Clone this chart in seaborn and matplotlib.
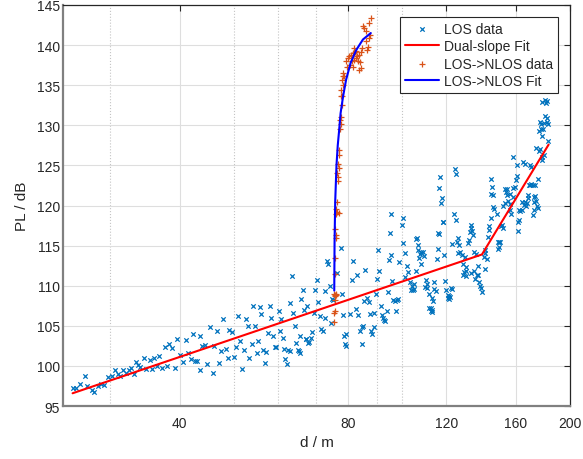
import numpy as np
import seaborn as sns
import matplotlib.pyplot as plt
from matplotlib.ticker import FixedLocator, NullFormatter

# LOS measurements (distance in m, path loss in dB)
los_d = [25.7, 26.1, 26.5, 27.0, 27.3, 27.8, 28.1, 28.5, 28.9, 29.3, 29.8, 30.2, 30.6, 31.0, 31.2, 31.7,
         32.0, 32.4, 32.7, 33.1, 33.4, 33.7, 34.0, 34.5, 34.8, 35.3, 35.6, 36.0, 36.4, 36.7, 37.1, 37.6,
         38.0, 38.3, 38.8, 39.2, 39.6, 40.1, 40.6, 41.0, 41.4, 41.9, 42.2, 42.6, 43.0, 43.4, 43.5,
         43.8, 44.3, 44.7, 45.2, 45.8, 46.1, 46.6, 47.0, 47.4, 47.8, 48.3, 48.7, 49.0, 49.5, 50.1, 50.4,
         50.9, 51.3, 51.7, 52.2, 52.5, 52.9, 53.3, 53.8, 54.1, 54.5, 54.9, 55.3, 55.6, 56.0, 56.4, 56.8,
         57.1, 57.5, 57.9, 58.2, 58.7, 59.2, 59.5, 60.1, 60.4, 60.7, 61.1, 61.5, 61.8, 62.1, 62.6, 63.0,
         63.4, 63.8, 64.3, 64.7, 65.1, 65.6, 62.9,
         66.4, 66.0, 66.8, 65.3, 65.6, 67.2, 67.8, 68.2, 68.6, 68.9, 69.5, 69.9, 70.4, 70.8, 71.2, 71.7,
         72.1, 72.9, 73.3, 73.7, 74.2, 72.7, 74.6, 67.5, 67.4,
         77.6, 76.6, 77.9, 74.8, 75.2, 78.3, 78.6, 79.5, 79.1, 79.4, 80.6, 81.3, 81.8, 82.6, 82.9, 83.4,
         84.2, 84.6, 85.1, 84.7, 85.4, 86.7, 85.7, 87.1, 87.7, 89.2, 87.9, 88.4, 88.9, 89.8, 90.3, 90.7,
         91.0, 91.8, 92.1, 92.5, 92.7, 93.3, 94.0, 94.3, 94.8, 95.1, 95.6, 96.1, 96.4, 97.0, 97.8, 98.2,
         97.4, 98.9, 100.0, 100.4, 100.2, 101.1, 101.4, 102.2, 102.6, 103.2, 103.7, 104.4, 104.9, 104.0,
         105.2, 106.3, 105.8, 106.6, 107.0, 108.0, 108.9, 107.8, 109.3, 107.2, 105.8, 108.0, 110.2, 110.7,
         109.9, 111.0, 111.6, 114.2, 114.3, 114.8, 113.2, 113.5, 112.5, 112.9, 112.5, 111.6, 113.2, 115.8,
         115.8, 115.7, 118.5, 119.3, 120.0, 120.6, 121.1, 121.6, 120.6, 121.3, 123.1, 123.0, 125.4, 125.9,
         95.4, 122.5, 129.3, 132.8,
         117.1, 116.6, 117.9, 117.5, 124.2, 124.7, 118.5, 123.8, 124.8, 116.4, 125.9, 126.6, 126.8, 127.9,
         118.7, 129.6, 131.3, 132.0, 132.6, 132.7, 133.5, 132.4, 134.2, 134.8, 135.4, 128.3, 129.9, 130.2,
         128.6, 129.9, 134.3, 135.0, 136.6, 136.0, 137.0, 137.5, 138.1, 138.7, 139.0, 140.0, 141.0, 140.6,
         142.0, 141.0, 142.6, 143.4, 143.4, 144.0, 145.4, 146.2, 144.4, 145.6, 144.8, 144.4, 148.0, 149.3,
         149.9, 148.5, 149.3, 148.7, 150.3, 150.9, 151.3, 151.3, 152.6, 152.8, 153.4, 154.3, 154.3, 155.0,
         155.9, 156.3, 156.1, 156.8, 157.7, 158.1, 158.3, 159.9, 160.6, 159.4, 160.3, 161.7, 162.9, 163.8,
         162.0, 161.3, 161.5, 164.3, 165.2, 165.9, 164.5, 166.2, 166.6, 167.3, 168.3, 167.8, 168.5, 169.8,
         170.5, 171.7, 173.0, 169.5, 170.5, 172.1, 171.6, 172.0, 173.3, 172.5, 173.8, 174.4, 175.1, 175.1,
         173.8, 176.0, 176.9, 177.7, 178.4, 179.4, 176.2, 177.5, 178.9, 179.9, 177.9, 176.4, 177.2, 180.4,
         181.9, 181.4, 182.2, 178.2, 180.1, 181.6, 180.9, 182.8]
los_pl = [97.3, 97.3, 97.8, 98.7, 97.5, 97.0, 96.8, 97.5, 97.8, 97.6, 98.6, 98.7, 99.5, 99.0, 98.7, 99.5,
          99.1, 99.5, 99.7, 99.0, 100.5, 100.1, 99.9, 101.0, 99.6, 100.7, 99.6, 101.0, 100.0, 101.2, 99.7, 102.4,
          100.0, 102.8, 102.3, 99.7, 103.4, 101.4, 100.5, 103.2, 101.6, 100.9, 104.0, 100.6, 100.6, 103.7, 99.5,
          102.5, 102.6, 100.3, 104.9, 99.1, 102.5, 104.4, 100.4, 101.9, 105.8, 102.1, 101.0, 104.5, 104.2, 101.1, 102.4,
          106.2, 103.1, 99.6, 102.0, 105.9, 105.0, 101.0, 102.7, 107.5, 105.0, 101.6, 103.1, 107.4, 106.5, 102.0, 100.4,
          101.7, 104.1, 107.5, 106.0, 103.8, 102.4, 102.4, 106.8, 104.4, 105.9, 103.5, 102.1, 100.9, 100.2, 102.0, 107.9,
          111.2, 106.6, 105.0, 102.9, 102.0, 103.7, 101.9,
          109.5, 108.4, 107.0, 101.9, 101.6, 103.4, 102.9, 103.0, 103.5, 104.2, 106.6, 109.5, 110.7, 108.0, 106.2, 104.6,
          104.3, 109.4, 113.1, 112.7, 110.0, 106.0, 105.3, 107.5, 103.4,
          114.7, 111.6, 109.0, 108.4, 108.2, 106.4, 103.7, 104.0, 102.7, 102.5, 106.5, 110.7, 113.1, 107.1, 111.4, 106.3,
          104.4, 104.8, 105.0, 102.7, 108.1, 108.5, 112.0, 108.0, 106.5, 106.6, 104.3, 104.0, 104.8, 109.0, 110.9, 114.5,
          111.8, 107.5, 106.3, 106.0, 105.7, 105.6, 106.9, 109.2, 113.2, 116.6, 113.8, 110.6, 108.2, 108.1, 108.2, 108.3,
          106.9, 112.9, 117.6, 118.5, 115.3, 114.1, 111.1, 112.5, 111.7, 110.5, 109.5, 109.5, 109.6, 110.0,
          110.2, 116.0, 115.8, 115.1, 114.5, 114.2, 114.2, 113.9, 113.7, 113.5, 111.9, 112.7, 110.7, 110.2,
          109.9, 109.7, 109.0, 110.5, 109.6, 109.3, 108.5, 108.1, 107.2, 107.0, 106.8, 107.2, 106.7, 114.6,
          116.6, 113.3, 118.0, 110.6, 109.5, 108.9, 108.7, 108.6, 108.5, 108.3, 115.2, 109.6, 115.4, 114.1,
          118.9, 109.7, 111.7, 111.6,
          123.6, 122.2, 120.9, 120.3, 124.5, 123.9, 117.9, 119.0, 118.2, 116.5, 116.0, 115.1, 114.2, 113.8,
          113.8, 113.6, 115.3, 115.7, 117.6, 117.2, 116.8, 116.7, 116.3, 114.2, 113.9, 112.7, 112.4, 111.9,
          111.4, 111.2, 111.8, 110.9, 112.5, 111.4, 111.3, 110.5, 110.0, 109.7, 109.2, 113.6, 114.5, 114.1,
          113.3, 112.1, 116.1, 117.4, 117.0, 118.4, 119.8, 119.6, 121.4, 121.3, 122.3, 123.3, 118.9, 115.5,
          115.5, 115.4, 114.8, 114.6, 117.5, 117.6, 117.2, 120.0, 120.3, 122.0, 121.7, 122.1, 121.3, 120.6,
          120.2, 121.4, 119.4, 119.0, 121.1, 122.2, 126.0, 123.2, 123.7, 122.3, 125.1, 119.5, 119.3, 119.4,
          118.2, 117.9, 116.8, 120.5, 120.1, 120.4, 125.4, 125.2, 120.0, 120.3, 121.3, 120.9, 122.5, 122.5,
          122.7, 122.5, 122.5, 125.0, 124.8, 119.5, 118.8, 121.1, 121.2, 120.5, 120.6, 120.0, 119.7, 123.3,
          127.2, 126.8, 127.0, 125.7, 126.1, 126.3, 129.3, 129.5, 129.6, 130.3, 128.7, 130.4, 130.2, 131.1,
          130.9, 130.4, 130.2, 132.9, 133.1, 133.0, 132.8, 128.0]

# dual-slope fit (break point near 139 m)
fit_d = [25.7, 139.0, 183.0]
fit_pl = [96.6, 113.9, 127.6]

# LOS->NLOS transition measurements
nlos_d = [75.6, 75.5, 75.8, 75.8, 75.7, 75.6, 76.1, 75.8, 76.3, 75.9, 75.8, 76.1, 75.8, 76.2,
          76.3, 76.6, 77.0, 76.1, 76.5, 76.8, 76.8, 76.5, 77.0, 76.7, 77.2, 77.0, 77.3, 77.4,
          77.8, 77.6, 77.9, 77.8, 78.1, 77.8, 78.4, 78.0, 78.4, 78.7, 78.4,
          79.4, 80.0, 80.5, 81.0, 81.6, 82.2, 82.7, 81.3, 81.9, 82.7, 83.3, 84.0, 80.8, 81.6,
          84.3, 83.7, 83.6, 84.5, 83.1, 79.7, 82.0,
          84.8, 85.1, 85.5, 86.0, 86.2, 87.0, 86.7, 87.1, 87.7, 88.0, 87.4]
nlos_pl = [105.5, 106.6, 106.9, 108.2, 108.8, 109.0, 108.9, 108.7, 109.0, 111.5, 113.5, 116.0, 117.1, 116.3,
           118.9, 119.2, 119.1, 119.6, 120.5, 123.0, 123.6, 124.0, 124.7, 125.2, 126.3, 126.9, 129.6, 130.7,
           130.2, 131.0, 132.5, 133.6, 133.6, 134.4, 135.0, 135.7, 136.1, 136.1, 136.5,
           138.0, 138.4, 138.6, 138.8, 139.0, 139.1, 139.3, 138.0, 138.2, 138.4, 138.0, 137.9, 137.5, 137.3,
           137.2, 136.9, 138.8, 139.1, 138.6, 137.3, 139.6,
           139.6, 142.4, 142.1, 141.7, 140.5, 139.8, 139.4, 140.9, 141.3, 143.4, 142.8]

# LOS->NLOS fit curve
nfit_d = [75.6, 75.7, 75.9, 76.3, 76.7, 77.1, 77.6, 78.4, 79.4, 80.9, 82.8, 85.1, 87.9]
nfit_pl = [109.4, 115.5, 120.5, 125.0, 127.5, 129.2, 131.5, 133.6, 135.7, 137.8, 139.4, 140.7, 141.5]

sns.set_style('whitegrid')
plt.rcParams['font.family'] = ['Liberation Sans', 'DejaVu Sans']

fig, ax = plt.subplots(figsize=(5.83, 4.6), dpi=100)
fig.subplots_adjust(left=0.108, right=0.978, bottom=0.115, top=0.987)

sns.scatterplot(x=los_d, y=los_pl, marker='x', color='#0072BD', s=10, linewidth=0.9,
                label='LOS data', ax=ax, zorder=3)
sns.lineplot(x=fit_d, y=fit_pl, color='#FF0000', linewidth=1.5, sort=False,
             label='Dual-slope Fit', ax=ax, zorder=4)
sns.scatterplot(x=nlos_d, y=nlos_pl, marker='+', color='#D95319', s=16, linewidth=0.9,
                label='LOS->NLOS data', ax=ax, zorder=3)
sns.lineplot(x=nfit_d, y=nfit_pl, color='#0000FF', linewidth=1.5, sort=False,
             label='LOS->NLOS Fit', ax=ax, zorder=4)

ax.set_xscale('log')
ax.set_xlim(24.7, 200)
ax.set_ylim(95, 145)
ax.set_xticks([40, 80, 120, 160, 200])
ax.set_xticklabels(['40', '80', '120', '160', '200'])
ax.xaxis.set_minor_locator(FixedLocator([30, 50, 60, 70, 90, 100]))
ax.xaxis.set_minor_formatter(NullFormatter())
ax.set_yticks(np.arange(95, 146, 5))

ax.grid(False)
ax.grid(which='major', color='#dedede', linewidth=0.8, linestyle='-')
ax.grid(which='minor', axis='x', color='#c4c4c4', linewidth=0.8, linestyle=':')
ax.set_axisbelow(True)

ax.tick_params(which='major', direction='in', length=4, width=0.8, top=True, right=True,
               labelsize=10, colors='#262626', color='#262626')
ax.tick_params(axis='x', which='major', pad=7)
ax.tick_params(axis='y', which='major', pad=2)
ax.tick_params(which='minor', length=0)

for side in ['left', 'bottom']:
    ax.spines[side].set_color('#808080')
    ax.spines[side].set_linewidth(1.6)
for side in ['top', 'right']:
    ax.spines[side].set_color('#262626')
    ax.spines[side].set_linewidth(0.9)

ax.set_xlabel('d / m', fontsize=11, color='#262626', labelpad=4)
ax.set_ylabel('PL / dB', fontsize=11, color='#262626', labelpad=6)

leg = ax.legend(loc='upper right', fontsize=10, frameon=True, fancybox=False, framealpha=1,
                edgecolor='#262626', borderaxespad=0.85, borderpad=0.35, labelspacing=0.25,
                handlelength=2.45, handletextpad=0.4)
leg.get_frame().set_linewidth(0.8)

plt.savefig('out.png', dpi=100)
plt.close()
